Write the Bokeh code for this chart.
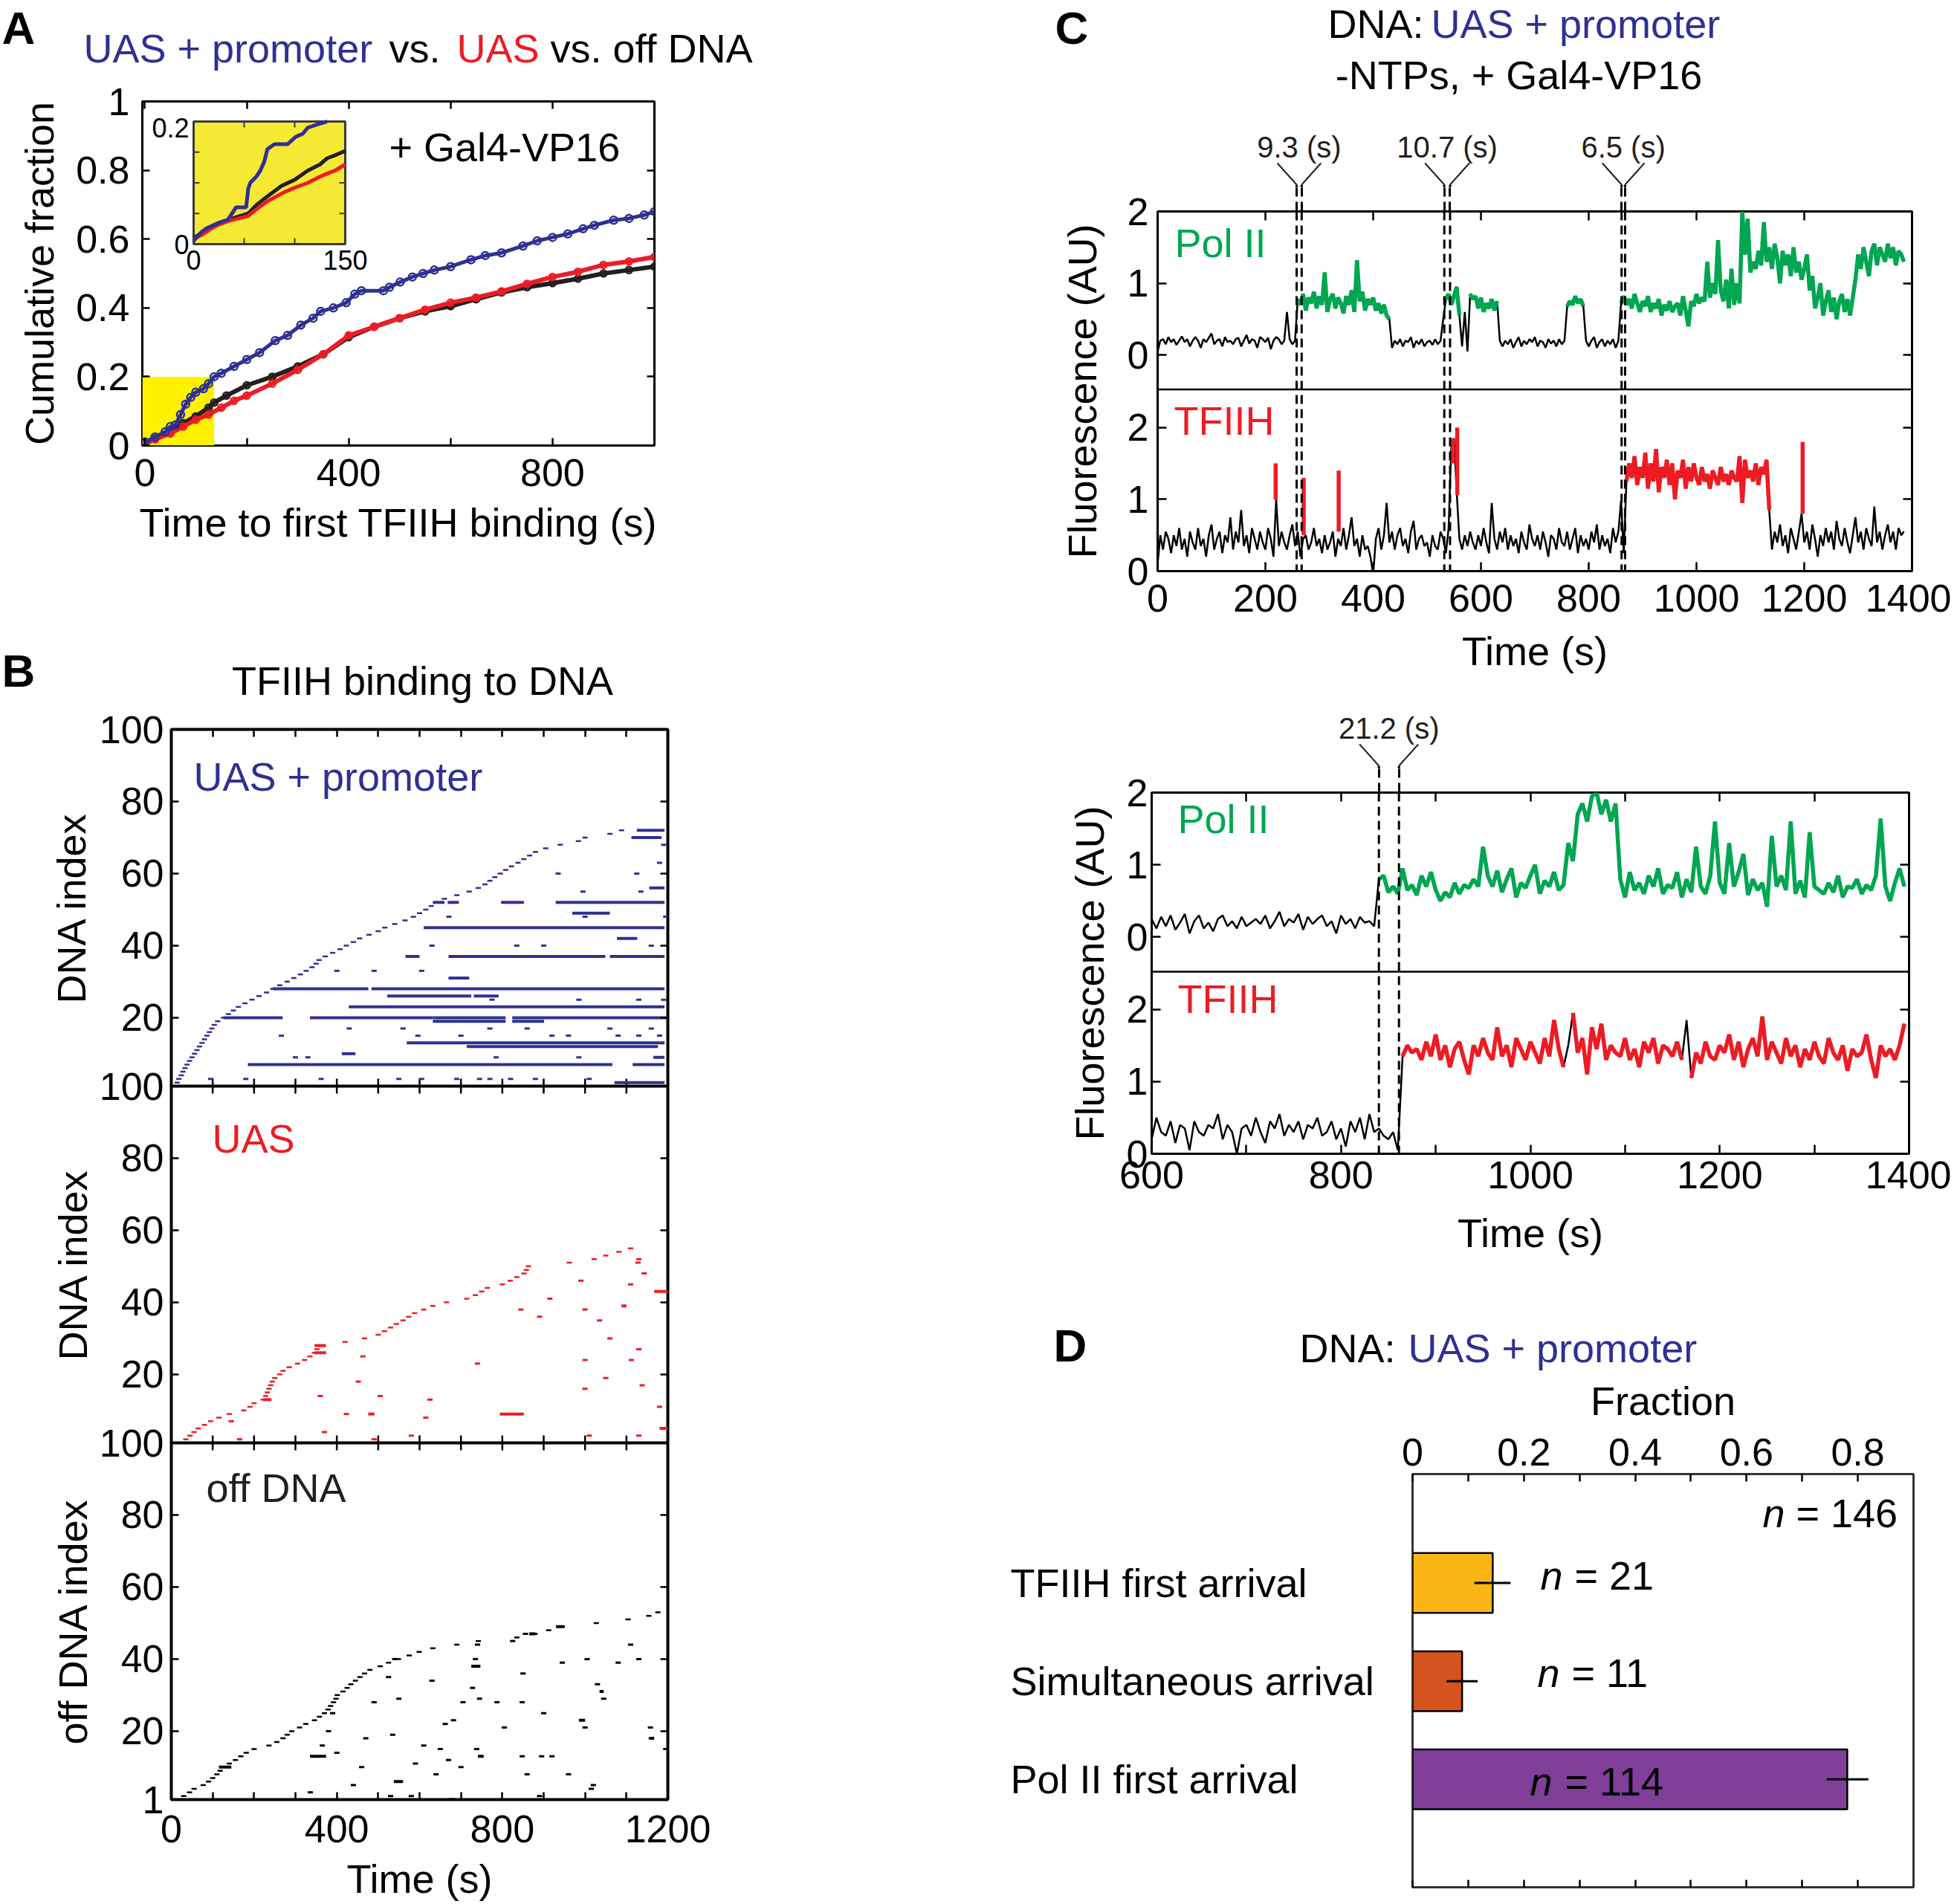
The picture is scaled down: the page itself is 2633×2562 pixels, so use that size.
import json
import numpy as np
from bokeh.plotting import figure
from bokeh.models import Range1d, LinearAxis, FixedTicker, Label, Span, CustomJSTickFormatter
from bokeh.layouts import column, row
from bokeh.embed import file_html
from bokeh.resources import INLINE
from bokeh.core.properties import value

FONT = "Liberation Sans"
BLUE = "#2E3192"
RED = "#ED1C24"
GREEN = "#00A651"
INK = "#231F20"

# ======================= DATA =======================
# ---- Panel A: cumulative fraction vs time to first TFIIH binding ----
a_prom_t = [0, 20, 40, 50, 60, 70, 80, 90, 100, 115, 125, 136, 150, 175, 200, 225, 256, 280, 306, 330,
            345, 370, 395, 412, 425, 468, 480, 501, 525, 546, 568, 600, 640, 668, 700, 742, 770, 800,
            830, 860, 882, 920, 950, 980, 1000]
a_prom_f = [0.01, 0.025, 0.04, 0.055, 0.06, 0.09, 0.12, 0.14, 0.155, 0.165, 0.18, 0.2, 0.21, 0.23, 0.25,
            0.27, 0.305, 0.32, 0.35, 0.37, 0.39, 0.40, 0.415, 0.44, 0.45, 0.45, 0.46, 0.475, 0.49, 0.50,
            0.51, 0.52, 0.54, 0.552, 0.56, 0.58, 0.595, 0.605, 0.615, 0.63, 0.64, 0.655, 0.66, 0.67, 0.68]
a_uas_t = [0, 20, 50, 75, 100, 125, 150, 175, 200, 250, 300, 350, 400, 450, 500, 550, 600, 650, 700,
           750, 800, 850, 900, 950, 1000]
a_uas_f = [0.005, 0.018, 0.035, 0.055, 0.075, 0.09, 0.11, 0.13, 0.145, 0.18, 0.22, 0.265, 0.32, 0.345,
           0.37, 0.395, 0.415, 0.43, 0.448, 0.47, 0.49, 0.505, 0.525, 0.535, 0.548]
a_off_t = [0, 20, 50, 75, 100, 125, 136, 160, 200, 250, 300, 350, 400, 450, 500, 550, 600, 650, 700,
           750, 800, 850, 900, 950, 1000]
a_off_f = [0.01, 0.02, 0.04, 0.065, 0.085, 0.11, 0.125, 0.145, 0.175, 0.2, 0.23, 0.265, 0.315, 0.345,
           0.37, 0.39, 0.405, 0.425, 0.445, 0.46, 0.472, 0.485, 0.50, 0.51, 0.52]
a_zoom_x = 136     # highlighted (yellow) window
a_zoom_y = 0.2
# inset, 0-150 s
ai_prom_t = [0, 5, 8, 12, 25, 34, 42, 52, 54, 56, 62, 66, 70, 73, 80, 93, 101, 108, 113, 122, 132]
ai_prom_f = [0.005, 0.015, 0.02, 0.025, 0.035, 0.04, 0.06, 0.06, 0.09, 0.1, 0.11, 0.12, 0.135, 0.155,
             0.163, 0.163, 0.175, 0.18, 0.19, 0.195, 0.2]
ai_off_t = [0, 10, 22, 35, 54, 63, 73, 87, 100, 113, 125, 132, 140, 147, 150]
ai_off_f = [0.01, 0.02, 0.03, 0.04, 0.05, 0.065, 0.078, 0.095, 0.105, 0.12, 0.13, 0.14, 0.145, 0.15, 0.152]
ai_uas_t = [0, 10, 22, 35, 54, 63, 73, 90, 100, 113, 125, 132, 140, 150]
ai_uas_f = [0.008, 0.017, 0.03, 0.038, 0.046, 0.058, 0.07, 0.085, 0.092, 0.1, 0.11, 0.115, 0.12, 0.13]

# ---- Panel B: TFIIH binding events (DNA index, time) ----
b_prom_first = [8, 14, 18, 24, 28, 33, 38, 44, 50, 56, 62, 68, 74, 80, 86, 92, 98, 104, 112, 126,
                138, 150, 162, 178, 195, 212, 230, 245, 262, 280, 296, 312, 326, 340, 350, 357, 372,
                390, 408, 423, 440, 455, 478, 500, 516, 540, 565, 585, 600, 615, 628, 640, 660, 690,
                720, 742, 758, 770, 782, 795, 808, 822, 838, 852, 866, 880, 905, 940, 984, 1000,
                1060, 1088]
b_prom_ev_idx = [20, 20, 20, 20, 20, 19, 19, 28, 28, 26, 26, 23, 13, 12, 7, 7, 2, 37, 37, 45, 52, 52,
                 52, 52, 56, 70, 72, 31, 42, 49, 10, 9, 37]
b_prom_ev_start = [126, 335, 632, 824, 901, 632, 824, 245, 484, 522, 731, 429, 569, 714, 185, 1115, 1071,
                   670, 1060, 610, 632, 668, 797, 929, 1155, 1112, 1125, 670, 1077, 969, 412, 1165, 566]
b_prom_ev_end = [269, 632, 808, 901, 1200, 808, 901, 476, 1192, 725, 791, 1192, 1192, 1176, 1066, 1192,
                 1192, 1049, 1192, 1192, 660, 695, 852, 1192, 1192, 1185, 1192, 720, 1126, 1060, 445,
                 1192, 600]
b_prom_dot_idx = [15, 15, 15, 15, 15, 15, 15, 15, 3, 3, 3, 3, 3, 3, 3, 3, 3, 3, 3, 9, 9, 9, 9, 17, 17,
                  17, 17, 17, 17, 25, 25, 25, 25, 33, 33, 33, 40, 40, 40, 40, 48, 48, 48, 55, 55, 60, 60,
                  63, 68]
b_prom_dot_t = [266, 596, 700, 920, 960, 1080, 1130, 1180, 95, 180, 362, 550, 605, 690, 745, 770, 820,
                880, 1010, 300, 330, 785, 985, 430, 560, 770, 860, 1060, 1160, 775, 985, 1130, 1190, 400,
                490, 605, 630, 835, 900, 1160, 671, 1000, 1195, 995, 1135, 935, 1125, 1180, 1190]

b_uas_first = [25, 35, 45, 55, 65, 80, 95, 115, 140, 175, 190, 200, 222, 228, 232, 236, 240, 244, 250,
               262, 270, 285, 305, 322, 335, 346, 352, 358, 420, 467, 500, 515, 530, 544, 560, 574, 588,
               610, 632, 665, 714, 735, 750, 764, 800, 819, 835, 852, 858, 863, 962, 1022, 1050, 1082,
               1110]
b_uas_ev_idx = [26, 28, 13, 9, 9, 43, 5, 39]
b_uas_ev_start = [346, 346, 222, 794, 476, 1167, 1180, 1088]
b_uas_ev_end = [374, 374, 242, 852, 491, 1200, 1200, 1100]
b_uas_dot_idx = [9, 4, 1, 3, 2, 13, 14, 18, 25, 23, 36, 38, 30, 35, 24, 27, 24, 17, 41, 46, 52, 51, 48,
                 45, 3, 8, 11, 19, 16, 38, 14, 3, 1, 7, 2]
b_uas_dot_t = [423, 370, 460, 580, 490, 625, 505, 452, 463, 740, 890, 1000, 1060, 1035, 1000, 1130, 1112,
               1138, 915, 990, 1130, 1128, 1143, 1110, 1130, 615, 1180, 1050, 1000, 845, 360, 1010, 1155,
               145, 165]

b_off_first = [20, 30, 44, 55, 77, 90, 100, 110, 118, 126, 140, 155, 168, 181, 200, 236, 255, 270, 280,
               291, 310, 325, 346, 358, 370, 379, 385, 392, 398, 401, 415, 425, 434, 445, 456, 467, 480,
               505, 525, 549, 575, 599, 632, 690, 742, 835, 879, 912, 945, 1027, 1104, 1154, 1176]
b_off_ev_idx = [13, 10, 38, 6, 13, 1, 49, 47, 23, 31, 18]
b_off_ev_start = [335, 115, 725, 538, 741, 670, 930, 865, 985, 1035, 1157]
b_off_ev_end = [374, 145, 747, 560, 755, 685, 950, 880, 1000, 1045, 1167]
b_off_dot_idx = [16, 20, 25, 14, 5, 3, 1, 10, 18, 28, 35, 40, 29, 19, 11, 16, 34, 8, 15, 12, 22, 23, 10,
                 28, 32, 29, 40, 44, 15, 28, 21, 45, 13, 28, 47, 8, 25, 13, 36, 2, 13, 39, 8, 21, 40, 5,
                 33, 29, 39, 44, 40, 18, 21, 15, 1, 4, 1, 1, 2, 2]
b_off_dot_t = [365, 380, 390, 400, 440, 336, 340, 460, 470, 490, 525, 540, 550, 535, 590, 610, 630, 640,
               650, 670, 662, 682, 700, 705, 728, 745, 735, 740, 738, 787, 805, 825, 848, 848, 856, 860,
               900, 895, 850, 890, 920, 945, 960, 1000, 1005, 1020, 1030, 1045, 1080, 1110, 1130, 1160,
               1158, 1195, 1140, 1015, 920, 810, 580, 530]

# ---- Panel C: fluorescence traces (5 s sampling) ----
c1_t0 = 0
c1_dt = 5
c1_pol = [0.05, 0.20, 0.22, 0.15, 0.25, 0.18, 0.22, 0.14, 0.20, 0.26,
          0.18, 0.22, 0.12, 0.20, 0.25, 0.20, 0.10, 0.22, 0.18, 0.24,
          0.30, 0.15, 0.20, 0.22, 0.12, 0.25, 0.18, 0.20, 0.15, 0.22,
          0.24, 0.12, 0.20, 0.28, 0.16, 0.22, 0.20, 0.10, 0.25, 0.22,
          0.18, 0.24, 0.08, 0.20, 0.25, 0.22, 0.15, 0.20, 0.60, 0.22,
          0.15, 0.20, 0.78, 0.70, 0.85, 0.62, 0.80, 0.72, 0.88, 0.65,
          0.82, 0.70, 1.15, 0.60, 0.78, 0.85, 0.65, 0.80, 0.72, 0.58,
          0.82, 0.70, 0.90, 0.60, 1.32, 0.75, 0.88, 0.62, 0.78, 0.70,
          0.80, 0.62, 0.72, 0.58, 0.70, 0.55, 0.50, 0.10, 0.20, 0.15,
          0.22, 0.12, 0.20, 0.18, 0.25, 0.10, 0.20, 0.15, 0.22, 0.12,
          0.18, 0.20, 0.14, 0.22, 0.15, 0.20, 0.50, 0.78, 0.85, 0.70,
          0.82, 0.95, 0.55, 0.12, 0.60, 0.05, 0.85, 0.78, 0.82, 0.65,
          0.80, 0.60, 0.72, 0.65, 0.78, 0.62, 0.75, 0.20, 0.12, 0.20,
          0.15, 0.22, 0.10, 0.18, 0.25, 0.12, 0.20, 0.15, 0.22, 0.18,
          0.25, 0.12, 0.20, 0.18, 0.10, 0.22, 0.16, 0.20, 0.12, 0.22,
          0.15, 0.20, 0.68, 0.75, 0.70, 0.82, 0.72, 0.78, 0.68, 0.20,
          0.12, 0.20, 0.25, 0.10, 0.18, 0.22, 0.12, 0.20, 0.15, 0.22,
          0.10, 0.20, 0.72, 0.82, 0.70, 0.78, 0.65, 0.85, 0.72, 0.60,
          0.75, 0.68, 0.82, 0.60, 0.72, 0.65, 0.78, 0.55, 0.70, 0.62,
          0.75, 0.60, 0.68, 0.72, 0.55, 0.82, 0.62, 0.40, 0.75, 0.68,
          0.85, 0.72, 0.80, 0.75, 1.30, 0.80, 1.00, 0.85, 1.60, 0.90,
          0.75, 1.05, 0.65, 1.20, 0.70, 1.00, 0.72, 2.00, 1.40, 1.90,
          1.15, 1.30, 1.20, 1.45, 1.25, 1.85, 1.30, 1.50, 1.20, 1.55,
          1.35, 1.00, 1.45, 1.25, 1.40, 1.10, 1.50, 1.15, 1.30, 1.05,
          1.20, 1.40, 0.90, 1.10, 0.65, 0.80, 1.00, 0.55, 0.75, 0.90,
          0.60, 0.80, 0.50, 0.75, 0.85, 0.60, 0.78, 0.55, 0.80, 1.05,
          1.40, 1.20, 1.50, 1.30, 1.10, 1.45, 1.55, 1.25, 1.50, 1.40,
          1.30, 1.55, 1.35, 1.50, 1.25, 1.45, 1.40, 1.30]
c1_tf = [0.10, 0.50, 0.30, 0.55, 0.45, 0.25, 0.50, 0.35, 0.60, 0.30,
         0.45, 0.20, 0.55, 0.40, 0.30, 0.60, 0.35, 0.45, 0.20, 0.50,
         0.65, 0.30, 0.45, 0.55, 0.25, 0.50, 0.40, 0.75, 0.30, 0.55,
         0.40, 0.85, 0.35, 0.50, 0.25, 0.60, 0.45, 0.30, 0.55, 0.40,
         0.30, 0.60, 0.45, 0.20, 1.00, 0.35, 0.55, 0.40, 0.30, 0.50,
         0.65, 0.35, 0.55, 0.20, 0.45, 0.50, 0.30, 0.40, 0.60, 0.35,
         0.45, 0.25, 0.50, 0.30, 0.40, 0.55, 0.20, 0.45, 0.35, 0.60,
         0.30, 0.50, 0.75, 0.35, 0.45, 0.20, 0.50, 0.30, 0.35, 0.20,
         -0.05, 0.45, 0.60, 0.30, 0.50, 0.95, 0.40, 0.55, 0.30, 0.50,
         0.60, 0.35, 0.45, 0.25, 0.55, 0.70, 0.30, 0.45, 0.50, 0.35,
         0.40, 0.20, 0.50, 0.35, 0.30, 0.55, 0.45, 0.25, 0.60, 1.75,
         1.85, 1.10, 0.45, 0.30, 0.50, 0.35, 0.55, 0.40, 0.30, 0.50,
         0.35, 0.60, 0.40, 0.25, 0.95, 0.45, 0.30, 0.55, 0.40, 0.60,
         0.30, 0.50, 0.35, 0.45, 0.25, 0.55, 0.40, 0.30, 0.65, 0.45,
         0.35, 0.50, 0.30, 0.55, 0.40, 0.20, 0.50, 0.45, 0.30, 0.60,
         0.40, 0.35, 0.55, 0.30, 0.45, 0.60, 0.25, 0.50, 0.35, 0.45,
         0.30, 0.55, 0.40, 0.65, 0.30, 0.50, 0.35, 0.45, 0.25, 0.60,
         0.40, 0.55, 0.98, 0.25, 1.25, 1.50, 1.30, 1.60, 1.20, 1.45,
         1.30, 1.65, 1.15, 1.50, 1.25, 1.70, 1.10, 1.45, 1.30, 1.55,
         1.20, 1.50, 1.00, 1.40, 1.30, 1.55, 1.15, 1.45, 1.25, 1.50,
         1.30, 1.20, 1.45, 1.25, 1.35, 1.15, 1.40, 1.30, 1.20, 1.45,
         1.25, 1.35, 1.20, 1.40, 1.30, 1.25, 1.60, 0.95, 1.55, 1.30,
         1.40, 1.25, 1.50, 1.20, 1.45, 1.35, 1.55, 0.85, 0.30, 0.55,
         0.40, 0.65, 0.35, 0.50, 0.25, 0.60, 0.45, 0.30, 0.55, 0.80,
         0.40, 0.55, 0.30, 0.65, 0.45, 0.20, 0.50, 0.35, 0.60, 0.40,
         0.55, 0.30, 0.70, 0.45, 0.35, 0.60, 0.40, 0.25, 0.50, 0.75,
         0.40, 0.55, 0.30, 0.60, 0.45, 0.35, 0.90, 0.40, 0.55, 0.30,
         0.50, 0.65, 0.40, 0.55, 0.30, 0.60, 0.50, 0.55]
c1_pol_bound = [(260, 430), (535, 560), (580, 630), (760, 790), (860, 1385)]
c1_tf_bound = [(870, 1135)]
c1_tf_spike_t = [219, 271, 336, 548, 556, 1197]
c1_tf_spike_lo = [1.0, 0.5, 0.55, 1.5, 1.06, 0.8]
c1_tf_spike_hi = [1.5, 1.3, 1.4, 1.85, 2.0, 1.8]
c1_pol_arrival = [258.0, 532.0, 861.0]
c1_tf_arrival = [267.3, 542.7, 867.5]

c2_t0 = 600
c2_dt = 5
c2_pol = [0.25, 0.12, 0.28, 0.15, 0.30, 0.10, 0.20, 0.32, 0.05, 0.22,
          0.30, 0.12, 0.20, 0.08, 0.25, 0.30, 0.15, 0.22, 0.12, 0.28,
          0.15, 0.20, 0.25, 0.18, 0.30, 0.12, 0.22, 0.35, 0.15, 0.25,
          0.20, 0.32, 0.10, 0.28, 0.18, 0.25, 0.30, 0.15, 0.22, 0.05,
          0.30, 0.18, 0.25, 0.12, 0.28, 0.20, 0.22, 0.15, 0.80, 0.85,
          0.62, 0.70, 0.60, 0.95, 0.65, 0.72, 0.58, 0.85, 0.70, 0.90,
          0.65, 0.50, 0.62, 0.55, 0.75, 0.60, 0.72, 0.68, 0.80, 0.70,
          1.25, 0.85, 0.70, 0.92, 0.62, 0.80, 0.95, 0.55, 0.75, 0.68,
          0.85, 1.00, 0.60, 0.78, 0.70, 0.90, 0.65, 0.72, 1.30, 1.05,
          1.70, 1.85, 1.60, 1.95, 2.00, 1.70, 1.90, 1.60, 1.85, 0.80,
          0.55, 0.90, 0.65, 0.75, 0.60, 0.85, 0.70, 0.95, 0.60, 0.72,
          0.68, 0.90, 0.55, 0.80, 0.62, 1.25, 0.70, 0.60, 0.85, 1.60,
          0.75, 0.60, 1.30, 0.70, 0.90, 1.15, 0.58, 0.80, 0.65, 0.75,
          0.42, 1.40, 0.70, 0.85, 0.65, 1.60, 0.60, 0.78, 0.55, 1.45,
          0.70, 0.65, 0.60, 0.75, 0.62, 0.85, 0.55, 0.70, 0.68, 0.80,
          0.60, 0.72, 0.65, 0.85, 1.64, 0.70, 0.50, 0.75, 0.95, 0.70]
c2_tf = [0.20, 0.50, 0.30, 0.25, 0.45, 0.15, 0.40, 0.35, 0.05, 0.45,
         0.30, 0.25, 0.40, 0.35, 0.55, 0.20, 0.40, 0.30, 0.00, 0.35,
         0.40, 0.25, 0.50, 0.30, 0.15, 0.45, 0.35, 0.55, 0.25, 0.40,
         0.30, 0.45, 0.20, 0.40, 0.35, 0.50, 0.25, 0.30, 0.45, 0.20,
         0.35, 0.10, 0.45, 0.30, 0.50, 0.20, 0.55, 0.30, 0.35, 0.25,
         0.20, 0.30, 0.05, 1.35, 1.50, 1.40, 1.45, 1.30, 1.55, 1.35,
         1.65, 1.30, 1.50, 1.20, 1.45, 1.55, 1.30, 1.10, 1.50, 1.35,
         1.60, 1.40, 1.30, 1.75, 1.35, 1.50, 1.20, 1.60, 1.45, 1.30,
         1.55, 1.40, 1.25, 1.60, 1.35, 1.85, 1.45, 1.20, 1.50, 1.95,
         1.40, 1.60, 1.10, 1.75, 1.45, 1.80, 1.30, 1.50, 1.40, 1.35,
         1.60, 1.30, 1.45, 1.20, 1.55, 1.40, 1.60, 1.25, 1.50, 1.45,
         1.35, 1.55, 1.30, 1.85, 1.05, 1.40, 1.25, 1.55, 1.35, 1.30,
         1.50, 1.40, 1.65, 1.30, 1.55, 1.20, 1.45, 1.60, 1.35, 1.90,
         1.30, 1.55, 1.40, 1.25, 1.60, 1.35, 1.50, 1.20, 1.45, 1.30,
         1.55, 1.35, 1.25, 1.60, 1.40, 1.30, 1.50, 1.15, 1.45, 1.35,
         1.40, 1.65, 1.30, 1.05, 1.50, 1.35, 1.45, 1.30, 1.50, 1.80]
c2_pol_bound = [(840, 1395)]
c2_tf_bound = [(865, 1035), (1045, 1160), (1170, 1395)]
c2_pol_arrival = [840.0]
c2_tf_arrival = [861.2]

# ---- Panel D ----
d_cats = ["TFIIH first arrival", "Simultaneous arrival", "Pol II first arrival"]
d_frac = [0.144, 0.089, 0.781]
d_err_lo = [0.111, 0.061, 0.744]
d_err_hi = [0.176, 0.117, 0.819]
d_n = [21, 11, 114]
d_n_total = 146
d_colors = ["#FBB616", "#D4531F", "#7F3F98"]

# ======================= HELPERS =======================
def jskey(v):
    v = float(v)
    return str(int(v)) if v.is_integer() else repr(v)


def num_fmt():
    return CustomJSTickFormatter(code="return String(Math.round(tick*1000)/1000)")


def map_fmt(mapping):
    m = {jskey(k): v for k, v in mapping.items()}
    return CustomJSTickFormatter(code="const m = " + json.dumps(m) +
                                 "; const k = String(tick); return (k in m) ? m[k] : '';")


def mkfig(w, h, xr, yr, bl, br, bt, bb, outline=3, ocolor="black"):
    p = figure(width=int(round(w)), height=int(round(h)), x_range=xr, y_range=yr, output_backend="svg",
               toolbar_location=None, x_axis_location=None, y_axis_location=None,
               min_border_left=int(round(bl)), min_border_right=int(round(br)),
               min_border_top=int(round(bt)), min_border_bottom=int(round(bb)))
    p.frame_align = False
    p.xgrid.visible = False
    p.ygrid.visible = False
    p.outline_line_color = ocolor
    p.outline_line_width = outline
    p.outline_line_alpha = 1.0
    p.background_fill_color = "white"
    p.border_fill_color = "white"
    return p


def tfig(box, xr=None):
    """Figure whose frame is its whole area (page box x0,y0,x1,y1); carries texts/annotation marks."""
    x0, y0, x1, y1 = box
    w, h = x1 - x0, y1 - y0
    return mkfig(w, h, xr if xr is not None else Range1d(0, w), Range1d(0, h), 0, 0, 0, 0,
                 outline=0, ocolor=None)


def add_axis(p, side, ticks, minor=(), labels=True, size=52, standoff=8, label=None, lsize=54,
             lstandoff=10, fmt=None, tick_len=10, tick_out=0, dash=None, tick_width=2.5):
    ax = LinearAxis(ticker=FixedTicker(ticks=list(ticks), minor_ticks=list(minor)))
    ax.axis_line_color = None
    ax.major_tick_in = tick_len
    ax.major_tick_out = tick_out
    ax.minor_tick_in = tick_len
    ax.minor_tick_out = 0
    ax.major_tick_line_width = tick_width
    ax.minor_tick_line_width = tick_width
    ax.major_tick_line_color = "black"
    ax.minor_tick_line_color = "black"
    if dash is not None:
        ax.major_tick_line_dash = dash
    if labels:
        ax.formatter = fmt if fmt is not None else num_fmt()
        ax.major_label_text_font = FONT
        ax.major_label_text_font_size = f"{size}px"
        ax.major_label_standoff = standoff
        ax.major_label_text_color = "black"
    else:
        ax.formatter = CustomJSTickFormatter(code="return ''")
        ax.major_label_text_font_size = "0px"
        ax.major_label_standoff = 0
    if label:
        ax.axis_label = label
        ax.axis_label_text_font = FONT
        ax.axis_label_text_font_size = f"{lsize}px"
        ax.axis_label_text_font_style = "normal"
        ax.axis_label_standoff = lstandoff
        ax.axis_label_text_color = "black"
    p.add_layout(ax, side)
    return ax


def lab(p, x, y, text, size=54, color="black", align="left", baseline="middle", style="normal",
        angle=0.0, xu="screen", yu="screen"):
    p.add_layout(Label(x=x, y=y, x_units=xu, y_units=yu, text=text, text_font=FONT,
                       text_font_size=f"{size}px", text_color=color, text_align=align,
                       text_baseline=baseline, text_font_style=style, angle=angle))


def plab(p, box, x, y, text, **kw):
    """Label placed at page coordinates (x, y) inside a text figure occupying `box`."""
    lab(p, x - box[0], box[3] - y, text, **kw)


def bound_segments(t, v, bounds, offset=0.0):
    xs, ys = [], []
    t = np.asarray(t, dtype=float)
    v = np.asarray(v, dtype=float)
    for a, b in bounds:
        m = (t >= a) & (t <= b)
        xs.append(list(t[m]))
        ys.append(list(v[m] + offset))
    return xs, ys

# page coordinates: left column x 0..LW, right column x LW..2625
LW = 1040
PR = 2625
BOT = 2562

# ======================= PANEL A =======================
AH = (0, 0, LW, 96)
a_head = tfig(AH)
plab(a_head, AH, 2, 37, "A", size=62, style="bold")
plab(a_head, AH, 112, 64, "UAS + promoter", color=BLUE)
plab(a_head, AH, 523, 64, "vs.")
plab(a_head, AH, 614, 64, "UAS", color=RED)
plab(a_head, AH, 740, 64, "vs. off DNA")

A_L, A_R, A_T, A_B = 191, 880, 136, 599            # frame in page pixels
pa = mkfig(LW, 775 - 96, Range1d(-5, 1000), Range1d(0, 1), bl=A_L, br=LW - A_R, bt=A_T - 96,
           bb=775 - A_B, outline=3)
add_axis(pa, "below", [0, 400, 800], [200, 600, 1000], standoff=18,
         label="Time to first TFIIH binding (s)", lstandoff=16)
add_axis(pa, "left", [0, 0.2, 0.4, 0.6, 0.8, 1.0], standoff=17, label="Cumulative fraction",
         lstandoff=16)
add_axis(pa, "above", [0, 400, 800], [200, 600, 1000], labels=False)
add_axis(pa, "right", [0, 0.2, 0.4, 0.6, 0.8, 1.0], labels=False)

pa.quad(left=pa.x_range.start, right=a_zoom_x, bottom=0, top=a_zoom_y, fill_color="#FFF200",
        line_color=None)
pa.line(a_off_t, a_off_f, line_color=INK, line_width=6)
pa.scatter(a_off_t, a_off_f, size=9, fill_color=None, line_color=INK, line_width=2.5)
pa.line(a_uas_t, a_uas_f, line_color=RED, line_width=6)
pa.scatter(a_uas_t, a_uas_f, size=9, fill_color=None, line_color=RED, line_width=2.5)
pa.line(a_prom_t, a_prom_f, line_color=BLUE, line_width=5)
pa.scatter(a_prom_t, a_prom_f, size=10, fill_color=None, line_color=BLUE, line_width=2.5)

# inset drawn on extra ranges mapped to its own box
il, ir, it, ib = 260, 464, 163, 328
ix0, ix1, iy0, iy1 = 0, 150, 0, 0.2
sx = (ir - il) / (ix1 - ix0)
sy = (ib - it) / (iy1 - iy0)
pa.extra_x_ranges = {"ins": Range1d(ix0 - (il - A_L) / sx, ix1 + (A_R - ir) / sx)}
pa.extra_y_ranges = {"ins": Range1d(iy0 - (A_B - ib) / sy, iy1 + (it - A_T) / sy)}
kw = dict(x_range_name="ins", y_range_name="ins")
pa.quad(left=ix0, right=ix1, bottom=iy0, top=iy1, fill_color="#F6E934", line_color="#3A3A3A",
        line_width=3, **kw)
itx = [50, 100]
ity = [0.05, 0.1, 0.15]
tl = 8
pa.segment(x0=itx, y0=[iy0] * 2, x1=itx, y1=[iy0 + tl / sy] * 2, line_color="#3A3A3A", line_width=2, **kw)
pa.segment(x0=itx, y0=[iy1] * 2, x1=itx, y1=[iy1 - tl / sy] * 2, line_color="#3A3A3A", line_width=2, **kw)
pa.segment(x0=[ix0] * 3, y0=ity, x1=[ix0 + tl / sx] * 3, y1=ity, line_color="#3A3A3A", line_width=2, **kw)
pa.segment(x0=[ix1] * 3, y0=ity, x1=[ix1 - tl / sx] * 3, y1=ity, line_color="#3A3A3A", line_width=2, **kw)
pa.line(ai_off_t, ai_off_f, line_color=INK, line_width=5, **kw)
pa.line(ai_uas_t, ai_uas_f, line_color=RED, line_width=5, **kw)
pa.line(ai_prom_t, ai_prom_f, line_color=BLUE, line_width=5, **kw)
pa.text(x=[ix0, ix1], y=[iy0 - 21 / sy] * 2, text=["0", "150"], text_font=value(FONT),
        text_font_size="36px", text_align="center", text_baseline="middle", **kw)
pa.text(x=[ix0 - 6 / sx] * 2, y=[iy0, iy1 - 8 / sy], text=["0", "0.2"], text_font=value(FONT),
        text_font_size="36px", text_align="right", text_baseline="middle", **kw)
lab(pa, 523 - A_L, A_B - 197, "+ Gal4-VP16")

# ======================= PANEL B =======================
BH = (0, 775, LW, 947)
b_head = tfig(BH)
plab(b_head, BH, 2, 902, "B", size=62, style="bold")
plab(b_head, BH, 568, 915, "TFIIH binding to DNA", align="center")

B_L, B_R, B_T, B_B = 230, 898, 981, 2421
BYL = 130
NI = 99  # index span of one sub-panel (1..100)
pb = mkfig(LW - BYL, BOT - BH[3], Range1d(0, 1200), Range1d(0, 3 * NI), bl=B_L - BYL, br=LW - B_R,
           bt=B_T - BH[3], bb=BOT - B_B, outline=4)
yt = [0]
ymap = {0: "1"}
for k in range(3):
    for i in [20, 40, 60, 80, 100]:
        yv = k * NI + i - 1
        yt.append(yv)
        ymap[yv] = str(i)
add_axis(pb, "left", yt, labels=True, standoff=10, fmt=map_fmt(ymap))
add_axis(pb, "right", yt, labels=False)
bx_major = [0, 400, 800, 1200]
bx_minor = [100, 200, 300, 500, 600, 700, 900, 1000, 1100]
add_axis(pb, "below", bx_major, bx_minor, standoff=21, label="Time (s)", lstandoff=16)
add_axis(pb, "above", bx_major, bx_minor, labels=False)
for k in (1, 2):
    pb.add_layout(Span(location=k * NI, dimension="width", line_color="black", line_width=4))
    pb.scatter(bx_major + bx_minor, [k * NI] * len(bx_major + bx_minor), marker="dash", size=20,
               angle=np.pi / 2, line_color="black", line_width=2.5)

panels = [
    (2 * NI, BLUE, b_prom_first, b_prom_ev_idx, b_prom_ev_start, b_prom_ev_end, b_prom_dot_idx, b_prom_dot_t),
    (1 * NI, RED, b_uas_first, b_uas_ev_idx, b_uas_ev_start, b_uas_ev_end, b_uas_dot_idx, b_uas_dot_t),
    (0, "black", b_off_first, b_off_ev_idx, b_off_ev_start, b_off_ev_end, b_off_dot_idx, b_off_dot_t),
]
for off, col, first, eidx, es, ee, didx, dt in panels:
    fy = [off + i for i in range(len(first))]      # index i+1 -> off + i
    pb.scatter(first, fy, marker="dash", size=7, line_color=col, line_width=2.5)
    ey = [off + i - 1 for i in eidx]
    pb.segment(x0=es, y0=ey, x1=ee, y1=ey, line_color=col, line_width=4)
    dy = [off + i - 1 for i in didx]
    pb.scatter(dt, dy, marker="dash", size=7, line_color=col, line_width=3)

lab(pb, 260 - B_L, B_B - 1044, "UAS + promoter", color=BLUE)
lab(pb, 285 - B_L, B_B - 1531, "UAS", color=RED)
lab(pb, 277 - B_L, B_B - 2001, "off DNA", color=INK)

BY = (0, BH[3], BYL, BOT)
b_ylab = tfig(BY)
plab(b_ylab, BY, 95, 1221, "DNA index", align="center", angle=np.pi / 2)
plab(b_ylab, BY, 97, 1701, "DNA index", align="center", angle=np.pi / 2)
plab(b_ylab, BY, 97, 2181, "off DNA index", align="center", angle=np.pi / 2)

# ======================= PANEL C =======================
GAP = 32   # top border of the trace panels (room for the top tick label)


def trace_panel(y0, y1, fl, fr, ft, fb, xlo, xhi, t0, dt, pol, tf, pol_bound, tf_bound,
                xticks, xminor, pol_lo, tf_hi, ystand, xstand, lstand_y, lstand_x, poltxt, tftxt,
                arrivals, spikes=None):
    off = tf_hi - pol_lo          # Pol II sub-panel sits above the TFIIH one
    p = mkfig(PR - LW, y1 - y0, Range1d(xlo, xhi), Range1d(0, tf_hi + 2.0 - pol_lo), bl=fl - LW,
              br=PR - fr, bt=ft - y0, bb=y1 - fb, outline=3)
    yt = [0, 1, 2, round(off, 4), round(off + 1, 4), round(off + 2, 4)]
    ymap = {yt[0]: "0", yt[1]: "1", yt[2]: "2", yt[3]: "0", yt[4]: "1", yt[5]: "2"}
    add_axis(p, "left", yt, standoff=ystand, fmt=map_fmt(ymap), label="Fluorescence (AU)",
             lstandoff=lstand_y, tick_len=12)
    add_axis(p, "right", yt, labels=False, tick_len=12)
    add_axis(p, "below", xticks, xminor, standoff=xstand, label="Time (s)", lstandoff=lstand_x,
             tick_len=12)
    add_axis(p, "above", xticks, xminor, labels=False, tick_len=12)
    # dashed arrival markers continuing above the frame (through the top border)
    arr_t = [a for pair in arrivals for a in pair]
    add_axis(p, "above", arr_t, labels=False, tick_len=0, tick_out=ft - y0, dash="12 7", tick_width=3)
    p.add_layout(Span(location=tf_hi, dimension="width", line_color="black", line_width=2.5))
    t = t0 + dt * np.arange(len(pol))
    p.line(t, np.asarray(pol) + off, line_color="black", line_width=2.5)
    xs, ys = bound_segments(t, pol, pol_bound, off)
    p.multi_line(xs, ys, line_color=GREEN, line_width=5.5)
    t2 = t0 + dt * np.arange(len(tf))
    p.line(t2, tf, line_color="black", line_width=2.5)
    xs, ys = bound_segments(t2, tf, tf_bound)
    p.multi_line(xs, ys, line_color=RED, line_width=5.5)
    if spikes is not None:
        st, slo, shi = spikes
        p.segment(x0=st, y0=slo, x1=st, y1=shi, line_color=RED, line_width=5.5)
    for loc in arr_t:
        p.add_layout(Span(location=loc, dimension="height", line_color="black", line_width=3,
                          line_dash="12 7"))
    lab(p, poltxt[0], poltxt[1], "Pol II", color=GREEN)
    lab(p, tftxt[0], tftxt[1], "TFIIH", color=RED)
    return p


def header(box, fl, fr, ft, xlo, xhi, arrivals):
    """Strip above a trace panel; x scale matches the panel frame (fl..fr), ft = frame top."""
    k = (xhi - xlo) / (fr - fl)
    h = tfig(box, xr=Range1d(xlo - (fl - box[0]) * k, xhi + (box[2] - fr) * k))
    yb = box[3]
    dx = 26 * k
    a = np.array([p[0] for p in arrivals])
    b = np.array([p[1] for p in arrivals])
    y_dash_top = yb - (ft - 36)
    y_arm_top = yb - (ft - 65)
    y_text = yb - (ft - 87)
    for arr in (a, b):
        h.segment(x0=arr, y0=0, x1=arr, y1=y_dash_top, line_color="black", line_width=3,
                  line_dash="12 7")
    h.segment(x0=a, y0=y_dash_top, x1=a - dx, y1=y_arm_top, line_color=INK, line_width=2)
    h.segment(x0=b, y0=y_dash_top, x1=b + dx, y1=y_arm_top, line_color=INK, line_width=2)
    h.text(x=(a + b) / 2, y=[y_text] * len(a), text=[f"{bb - aa:.1f} (s)" for aa, bb in zip(a, b)],
           text_font=value(FONT), text_font_size="40px", text_align="center",
           text_baseline="middle", text_color=INK)
    return h


C1_L, C1_R, C1_T, C1_B = 1557, 2572, 284, 767.5
CH1 = (LW, 0, PR, C1_T - GAP)
ch1 = header(CH1, C1_L, C1_R, C1_T, 0, 1400, list(zip(c1_pol_arrival, c1_tf_arrival)))
plab(ch1, CH1, 1419, 37, "C", size=62, style="bold")
plab(ch1, CH1, 1915, 31, "DNA:", align="right")
plab(ch1, CH1, 1925, 31, "UAS + promoter", color=BLUE)
plab(ch1, CH1, 2043, 100, "-NTPs, + Gal4-VP16", align="center")

c1 = trace_panel(C1_T - GAP, 930, C1_L, C1_R, C1_T, C1_B, 0, 1400, c1_t0, c1_dt, c1_pol, c1_tf,
                 c1_pol_bound, c1_tf_bound, list(range(0, 1401, 200)), [], -0.48, 2.53,
                 12, 18, 28, 20, (23, C1_B - 326), (22, C1_B - 565),
                 list(zip(c1_pol_arrival, c1_tf_arrival)),
                 spikes=(c1_tf_spike_t, c1_tf_spike_lo, c1_tf_spike_hi))

C2_L, C2_R, C2_T, C2_B = 1549, 2568, 1066, 1552
CH2 = (LW, 930, PR, C2_T - GAP)
ch2 = header(CH2, C2_L, C2_R, C2_T, 600, 1400, list(zip(c2_pol_arrival, c2_tf_arrival)))
c2 = trace_panel(C2_T - GAP, 1700, C2_L, C2_R, C2_T, C2_B, 600, 1400, c2_t0, c2_dt, c2_pol, c2_tf,
                 c2_pol_bound, c2_tf_bound, list(range(600, 1401, 200)), [700, 900, 1100, 1300],
                 -0.48, 2.52, 5, 10, 17, 27, (35, C2_B - 1101), (35, C2_B - 1343),
                 list(zip(c2_pol_arrival, c2_tf_arrival)))

# ======================= PANEL D =======================
DH = (LW, 1700, PR, 1845)
d_head = tfig(DH)
plab(d_head, DH, 1417, 1810, "D", size=62, style="bold")
plab(d_head, DH, 1877, 1813, "DNA:", align="right")
plab(d_head, DH, 1894, 1813, "UAS + promoter", color=BLUE)

D_L, D_R, D_T, D_B = 1900, 2574, 1983, 2539
DCX = 1880
pos = [3, 2, 1]
pd = mkfig(PR - DCX, BOT - 1845, Range1d(0, 0.9), Range1d(-0.1, 4.11), bl=D_L - DCX, br=PR - D_R,
           bt=D_T - 1845, bb=BOT - D_B, outline=3, ocolor="#333333")
add_axis(pd, "above", [0, 0.2, 0.4, 0.6, 0.8], [0.1, 0.3, 0.5, 0.7], standoff=12, label="Fraction",
         lstandoff=18)
add_axis(pd, "below", [0, 0.2, 0.4, 0.6, 0.8], [0.1, 0.3, 0.5, 0.7], labels=False)
pd.hbar(y=pos, left=0, right=d_frac, height=0.61, fill_color=d_colors, line_color="black",
        line_width=2.5)
pd.segment(x0=d_err_lo, y0=pos, x1=d_err_hi, y1=pos, line_color="black", line_width=3)
n_left = [2072, 2068, 2058]
eq_left = [2118, 2114, 2105]
n_y = [2119, 2250, 2396]
for nl, el, ny, n in zip(n_left, eq_left, n_y, d_n):
    lab(pd, nl - D_L, D_B - ny, "n", style="italic")
    lab(pd, el - D_L, D_B - ny, f"= {n}")
lab(pd, 2401 - D_L, D_B - 2035, "n", style="italic", align="right")
lab(pd, 2416 - D_L, D_B - 2035, f"= {d_n_total}")

d_cat = mkfig(DCX - LW, BOT - 1845, Range1d(0, DCX - LW), Range1d(-0.1, 4.11), bl=0, br=0,
              bt=D_T - 1845, bb=BOT - D_B, outline=0, ocolor=None)
for c, yy in zip(d_cats, pos):
    lab(d_cat, 1359 - LW, yy, c, yu="data")

# ======================= LAYOUT =======================
left = column(a_head, pa, b_head, row(b_ylab, pb))
right = column(ch1, c1, ch2, c2, d_head, row(d_cat, pd))
lay = row(left, right)
open("out.html", "w").write(file_html(lay, INLINE))
